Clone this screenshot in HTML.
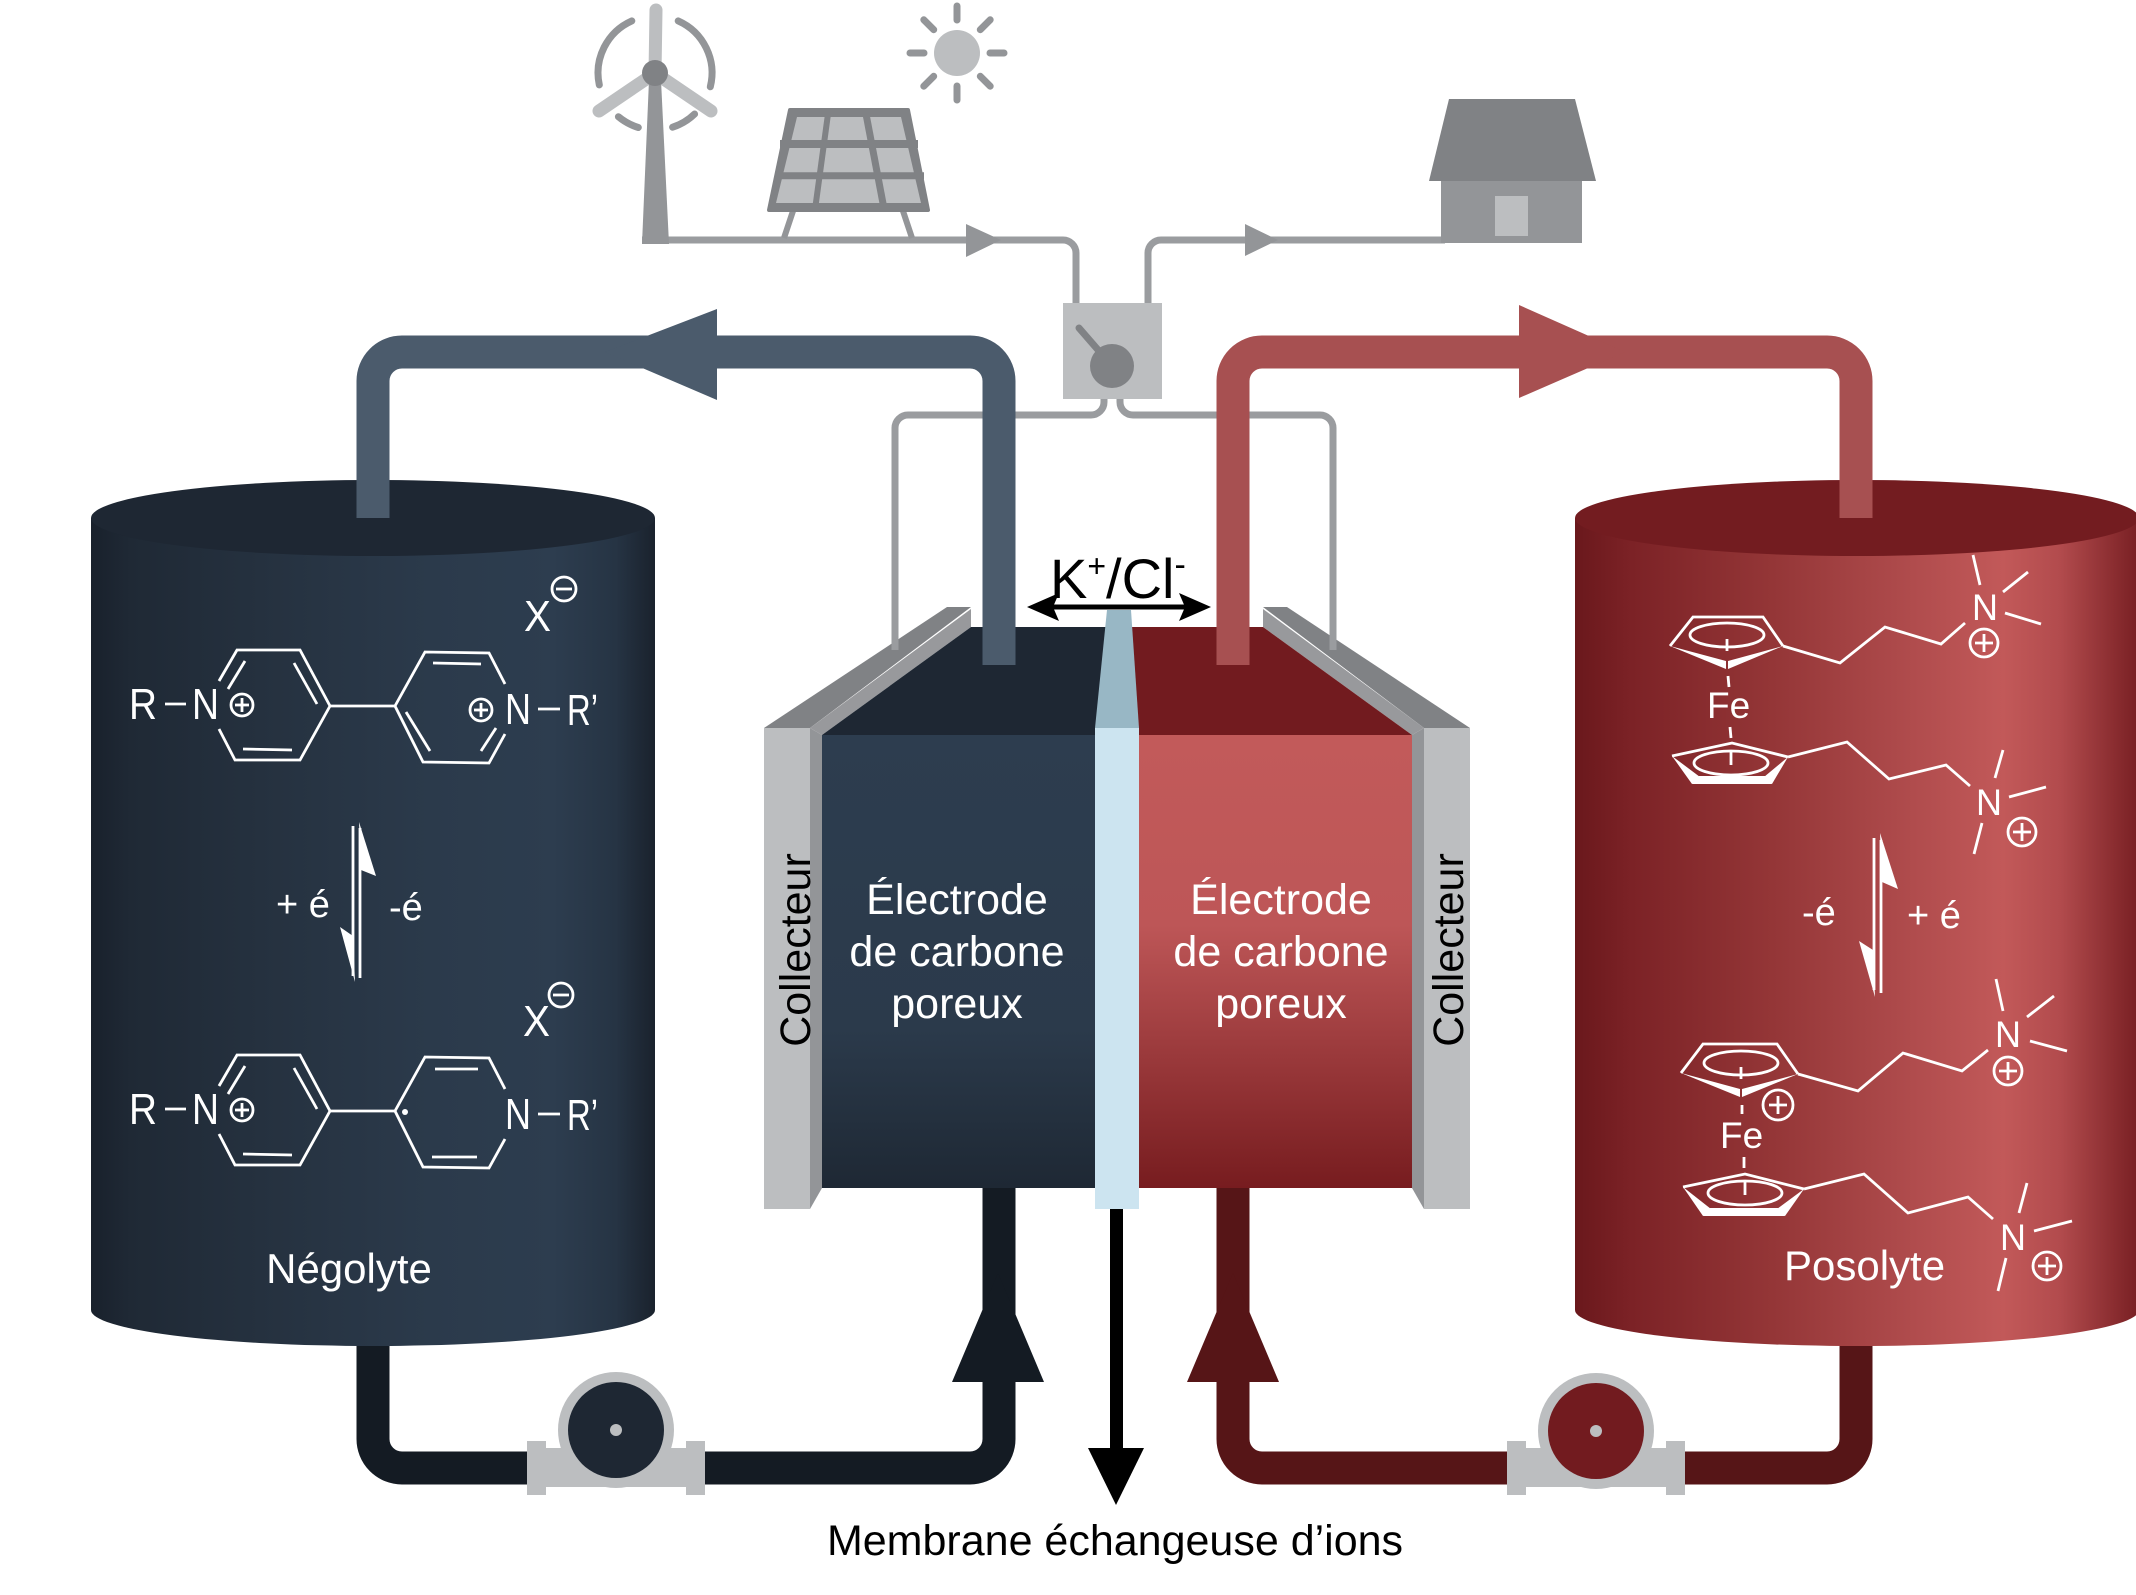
<!DOCTYPE html>
<html><head><meta charset="utf-8"><style>
html,body{margin:0;padding:0;background:#fff;}
svg{display:block;}
text{font-family:"Liberation Sans",Arial,sans-serif;}
</style></head><body>
<svg width="2136" height="1595" viewBox="0 0 2136 1595" xmlns="http://www.w3.org/2000/svg">
<defs>
<linearGradient id="gL" gradientUnits="userSpaceOnUse" x1="91" y1="0" x2="655" y2="0">
<stop offset="0" stop-color="#19212c"/><stop offset="0.07" stop-color="#1f2935"/><stop offset="0.3" stop-color="#25313f"/><stop offset="0.6" stop-color="#2b3a4b"/><stop offset="0.82" stop-color="#2d3d4f"/><stop offset="0.93" stop-color="#263444"/><stop offset="1" stop-color="#1a222d"/>
</linearGradient>
<linearGradient id="gR" gradientUnits="userSpaceOnUse" x1="1575" y1="0" x2="2139" y2="0">
<stop offset="0" stop-color="#6a181c"/><stop offset="0.1" stop-color="#7c2226"/><stop offset="0.35" stop-color="#943637"/><stop offset="0.6" stop-color="#b04c4d"/><stop offset="0.76" stop-color="#c25959"/><stop offset="0.86" stop-color="#b24b4d"/><stop offset="1" stop-color="#781f23"/>
</linearGradient>
<linearGradient id="eL" x1="0" y1="0" x2="0" y2="1">
<stop offset="0" stop-color="#2d3d4f"/><stop offset="0.65" stop-color="#2b3a4b"/><stop offset="1" stop-color="#1e2834"/>
</linearGradient>
<linearGradient id="eR" x1="0" y1="0" x2="0" y2="1">
<stop offset="0" stop-color="#c25a5a"/><stop offset="0.42" stop-color="#bd5657"/><stop offset="1" stop-color="#771c1f"/>
</linearGradient>
</defs>

<!-- bottom pipes -->
<path d="M373,1320 V1439 A29,29 0 0 0 402,1468 H970 A29,29 0 0 0 999,1439 V1180" fill="none" stroke="#141b23" stroke-width="33"/>
<path d="M1856,1320 V1439 A29,29 0 0 1 1827,1468 H1262 A29,29 0 0 1 1233,1439 V1180" fill="none" stroke="#561517" stroke-width="33"/>
<polygon points="952,1382 1044,1382 998,1273" fill="#141b23"/>
<polygon points="1187,1382 1279,1382 1233,1273" fill="#561517"/>

<!-- tanks -->
<path d="M91,518 V1310 A282,36 0 0 0 655,1310 V518 Z" fill="url(#gL)"/>
<ellipse cx="373" cy="518" rx="282" ry="38" fill="#1e2733"/>
<path d="M1575,518 V1310 A282,36 0 0 0 2139,1310 V518 Z" fill="url(#gR)"/>
<ellipse cx="1857" cy="518" rx="282" ry="38" fill="#731c20"/>

<!-- cell -->
<rect x="764" y="728" width="46" height="481" fill="#bcbec0"/>
<polygon points="810,728 822,735 822,1188 810,1209" fill="#939598"/>
<polygon points="764,728 947,607 971,607 810,728" fill="#808285"/>
<polygon points="810,728 971,609 971,627 822,735" fill="#98999c"/>
<polygon points="822,735 971,627 1110,627 1110,735" fill="#1e2733"/>
<rect x="822" y="735" width="273" height="453" fill="url(#eL)"/>

<rect x="1424" y="728" width="46" height="481" fill="#bcbec0"/>
<polygon points="1424,728 1412,735 1412,1188 1424,1209" fill="#939598"/>
<polygon points="1470,728 1287,607 1263,607 1424,728" fill="#808285"/>
<polygon points="1424,728 1263,609 1263,627 1412,735" fill="#98999c"/>
<polygon points="1412,735 1263,627 1124,627 1124,735" fill="#721b1f"/>
<rect x="1139" y="735" width="273" height="453" fill="url(#eR)"/>

<polygon points="1095,728 1139,728 1131,610 1107,610" fill="#98b7c5"/>
<rect x="1095" y="728" width="44" height="481" fill="#cce4f0"/>

<!-- membrane arrow -->
<rect x="1110" y="1209" width="13" height="245" fill="#000"/>
<polygon points="1088,1448 1144,1448 1116,1505" fill="#000"/>

<!-- wires -->
<g fill="none" stroke="#9a9c9f" stroke-width="7">
<path d="M642,240 H1063 A13,13 0 0 1 1076,253 V305"/>
<path d="M1148,305 V253 A13,13 0 0 1 1161,240 H1445"/>
<path d="M1104,388 V402 A13,13 0 0 1 1091,415 H908 A13,13 0 0 0 895,428 V650"/>
<path d="M1120,388 V402 A13,13 0 0 0 1133,415 H1320 A13,13 0 0 1 1333,428 V650"/>
</g>
<polygon points="966,224 1001,240 966,257" fill="#939598"/>
<polygon points="1245,224 1278,240 1245,256" fill="#939598"/>

<!-- switch -->
<rect x="1063" y="303" width="99" height="96" fill="#bcbec0"/>
<line x1="1079" y1="328" x2="1112" y2="366" stroke="#808285" stroke-width="7" stroke-linecap="round"/>
<circle cx="1112" cy="366" r="22" fill="#808285"/>

<!-- top pipes -->
<path d="M373,518 V381 A29,29 0 0 1 402,352 H970 A29,29 0 0 1 999,381 V665" fill="none" stroke="#4b5b6c" stroke-width="33"/>
<polygon points="605,352 717,309 717,400" fill="#4b5b6c"/>
<path d="M1233,665 V381 A29,29 0 0 1 1262,352 H1827 A29,29 0 0 1 1856,381 V518" fill="none" stroke="#a75051" stroke-width="33"/>
<polygon points="1625,352 1519,305 1519,398" fill="#a75051"/>

<!-- pumps -->
<g>
<rect x="527" y="1448" width="178" height="39" fill="#bcbec0"/>
<rect x="527" y="1441" width="19" height="54" fill="#bcbec0"/>
<rect x="686" y="1441" width="19" height="54" fill="#bcbec0"/>
<circle cx="616" cy="1430" r="58" fill="#bcbec0"/>
<circle cx="616" cy="1430" r="48" fill="#1e2733"/>
<circle cx="616" cy="1430" r="6" fill="#bcbec0"/>
</g>
<g>
<rect x="1507" y="1448" width="178" height="39" fill="#bcbec0"/>
<rect x="1507" y="1441" width="19" height="54" fill="#bcbec0"/>
<rect x="1666" y="1441" width="19" height="54" fill="#bcbec0"/>
<circle cx="1596" cy="1431" r="58" fill="#bcbec0"/>
<circle cx="1596" cy="1431" r="48" fill="#721b1f"/>
<circle cx="1596" cy="1431" r="6" fill="#bcbec0"/>
</g>

<!-- wind turbine -->
<g fill="none" stroke="#939598" stroke-width="7" stroke-linecap="round">
<path d="M599.3,84.9 A57,57 0 0 1 631.8,20.9"/>
<path d="M678.2,20.9 A57,57 0 0 1 710.3,86.8"/>
<path d="M694.6,114 A57,57 0 0 1 672.6,127.2"/>
<path d="M638.3,127.5 A57,57 0 0 1 618.4,116.7"/>
</g>
<polygon points="649,80 661,80 669,244 642,244" fill="#939598"/>
<g stroke="#bcbec0" stroke-width="13" stroke-linecap="round">
<line x1="655" y1="73" x2="656" y2="10"/>
<line x1="655" y1="73" x2="599" y2="111"/>
<line x1="655" y1="73" x2="711" y2="111"/>
</g>
<circle cx="655" cy="73" r="13" fill="#808285"/>

<!-- sun -->
<circle cx="957" cy="53" r="23" fill="#bcbec0"/>
<g stroke="#939598" stroke-width="7" stroke-linecap="round">
<line x1="957" y1="20" x2="957" y2="6"/>
<line x1="957" y1="86" x2="957" y2="100"/>
<line x1="924" y1="53" x2="910" y2="53"/>
<line x1="990" y1="53" x2="1004" y2="53"/>
<line x1="933.7" y1="29.7" x2="923.8" y2="19.8"/>
<line x1="980.3" y1="29.7" x2="990.2" y2="19.8"/>
<line x1="933.7" y1="76.3" x2="923.8" y2="86.2"/>
<line x1="980.3" y1="76.3" x2="990.2" y2="86.2"/>
</g>

<!-- solar panel -->
<g stroke="#939598" stroke-width="6">
<line x1="794" y1="208" x2="784" y2="238"/>
<line x1="902" y1="208" x2="912" y2="238"/>
</g>
<polygon points="790,110 908,110 928,210 769,210" fill="#808285" stroke="#808285" stroke-width="4" stroke-linejoin="round"/>
<polygon points="797,117 901,117 921,203 776,203" fill="#bcbec0"/>
<g stroke="#808285">
<line x1="780" y1="144" x2="918" y2="144" stroke-width="8"/>
<line x1="775" y1="175.7" x2="924" y2="175.7" stroke-width="7"/>
<line x1="828" y1="114" x2="815.5" y2="206" stroke-width="6"/>
<line x1="866" y1="114" x2="883.5" y2="206" stroke-width="7"/>
</g>

<!-- house -->
<polygon points="1449,99 1575,99 1596,181 1429,181" fill="#808285"/>
<rect x="1441" y="181" width="141" height="62" fill="#939598"/>
<rect x="1495" y="196" width="33" height="40" fill="#bcbec0"/>

<!-- double arrow K+/Cl- -->
<line x1="1050" y1="607" x2="1188" y2="607" stroke="#000" stroke-width="5"/>
<polygon points="1027,607 1059,593 1053,607 1059,621" fill="#000"/>
<polygon points="1211,607 1179,593 1185,607 1179,621" fill="#000"/>
<text x="1050" y="598" font-size="56" fill="#000">K<tspan dy="-21" font-size="32">+</tspan><tspan dy="21">/Cl</tspan><tspan dy="-22" font-size="34">-</tspan></text>

<!-- electrode texts -->
<g fill="#fff" font-size="43" text-anchor="middle">
<text x="957" y="914">Électrode</text>
<text x="957" y="966">de carbone</text>
<text x="957" y="1018">poreux</text>
<text x="1281" y="914">Électrode</text>
<text x="1281" y="966">de carbone</text>
<text x="1281" y="1018">poreux</text>
</g>
<g fill="#000" font-size="43" text-anchor="middle">
<text transform="translate(810,950) rotate(-90)">Collecteur</text>
<text transform="translate(1463,950) rotate(-90)">Collecteur</text>
<text x="1115" y="1555">Membrane échangeuse d’ions</text>
</g>

<!-- tank labels -->
<g fill="#fff" font-size="42">
<text x="349" y="1283" text-anchor="middle">Négolyte</text>
<text x="1784" y="1280">Posolyte</text>
</g>

<!-- viologen top -->
<g stroke="#fff" stroke-width="2.8" fill="none" stroke-linecap="butt">
<polyline points="219,681 237,650 300,650 330,706 300,760 235,760 219,729"/>
<line x1="245" y1="661" x2="228" y2="689"/>
<line x1="294" y1="663" x2="317" y2="704"/>
<line x1="243" y1="749" x2="292" y2="750"/>
<line x1="330" y1="706" x2="395" y2="706"/>
<polyline points="505,684 489,653 425,652 395,706 423,762 489,763 505,734"/>
<line x1="433" y1="663" x2="481" y2="664"/>
<line x1="406" y1="712" x2="430" y2="751"/>
<line x1="496" y1="728" x2="481" y2="751"/>
<line x1="165" y1="704" x2="186" y2="704"/>
<line x1="538" y1="709" x2="560" y2="709"/>
<circle cx="242" cy="705" r="11"/><line x1="235" y1="705" x2="249" y2="705"/><line x1="242" y1="698" x2="242" y2="712"/>
<circle cx="481" cy="710" r="11"/><line x1="474" y1="710" x2="488" y2="710"/><line x1="481" y1="703" x2="481" y2="717"/>
<circle cx="564" cy="589" r="12"/><line x1="556" y1="589" x2="572" y2="589"/>
</g>
<g fill="#fff" font-size="44">
<text x="129" y="719" textLength="28" lengthAdjust="spacingAndGlyphs">R</text>
<text x="192" y="719" textLength="27" lengthAdjust="spacingAndGlyphs">N</text>
<text x="505" y="724" textLength="26" lengthAdjust="spacingAndGlyphs">N</text>
<text x="567" y="725" textLength="31" lengthAdjust="spacingAndGlyphs">R’</text>
<text x="524" y="631" textLength="27" lengthAdjust="spacingAndGlyphs">X</text>
</g>

<!-- equilibrium left -->
<g stroke="#fff" stroke-width="2.8">
<line x1="353" y1="826" x2="353" y2="976"/>
<line x1="360" y1="828" x2="360" y2="978"/>
</g>
<polygon points="355,982 340,927 353,936" fill="#fff"/>
<polygon points="359,822 376,876 361,870" fill="#fff"/>
<g fill="#fff" font-size="38">
<text x="276" y="917">+ é</text>
<text x="389" y="920">-é</text>
</g>

<!-- viologen bottom (radical) -->
<g stroke="#fff" stroke-width="2.8" fill="none">
<polyline points="219,1086 237,1055 300,1055 330,1111 300,1165 235,1165 219,1134"/>
<line x1="245" y1="1066" x2="228" y2="1094"/>
<line x1="294" y1="1068" x2="317" y2="1109"/>
<line x1="243" y1="1154" x2="292" y2="1155"/>
<line x1="330" y1="1111" x2="395" y2="1111"/>
<polyline points="505,1089 489,1058 425,1057 395,1111 423,1167 489,1168 505,1139"/>
<line x1="435" y1="1069" x2="478" y2="1069"/>
<line x1="432" y1="1157" x2="477" y2="1157"/>
<line x1="165" y1="1109" x2="186" y2="1109"/>
<line x1="538" y1="1114" x2="560" y2="1114"/>
<circle cx="242" cy="1110" r="11"/><line x1="235" y1="1110" x2="249" y2="1110"/><line x1="242" y1="1103" x2="242" y2="1117"/>
<circle cx="561" cy="995" r="12"/><line x1="553" y1="995" x2="569" y2="995"/>
</g>
<circle cx="405" cy="1112" r="3" fill="#fff"/>
<g fill="#fff" font-size="44">
<text x="129" y="1124" textLength="28" lengthAdjust="spacingAndGlyphs">R</text>
<text x="192" y="1124" textLength="27" lengthAdjust="spacingAndGlyphs">N</text>
<text x="505" y="1129" textLength="26" lengthAdjust="spacingAndGlyphs">N</text>
<text x="567" y="1130" textLength="31" lengthAdjust="spacingAndGlyphs">R’</text>
<text x="523" y="1036" textLength="27" lengthAdjust="spacingAndGlyphs">X</text>
</g>

<!-- ferrocene top (neutral) -->
<g stroke="#fff" stroke-width="2.8" fill="none">
<polyline points="1670,646 1693,617 1763,617 1783,646"/>
<ellipse cx="1727" cy="635" rx="37" ry="12"/>
<line x1="1727" y1="639" x2="1727" y2="651"/>
<line x1="1728" y1="676" x2="1729" y2="687"/>
<line x1="1730" y1="727" x2="1731" y2="738"/>
<polyline points="1672,756 1732,743 1788,757"/>
<ellipse cx="1731" cy="763" rx="37" ry="12"/>
<line x1="1731" y1="752" x2="1731" y2="765"/>
<polyline points="1783,646 1840,663 1885,627 1941,644 1965,623"/>
<line x1="1973" y1="555" x2="1980" y2="585"/>
<line x1="2003" y1="592" x2="2028" y2="572"/>
<line x1="2005" y1="613" x2="2041" y2="624"/>
<circle cx="1984" cy="643" r="14"/><line x1="1975" y1="643" x2="1993" y2="643"/><line x1="1984" y1="634" x2="1984" y2="652"/>
<polyline points="1788,757 1847,742 1889,779 1946,765 1970,786"/>
<line x1="1995" y1="778" x2="2003" y2="750"/>
<line x1="2009" y1="797" x2="2046" y2="787"/>
<line x1="1982" y1="823" x2="1974" y2="854"/>
<circle cx="2022" cy="832" r="14"/><line x1="2013" y1="832" x2="2031" y2="832"/><line x1="2022" y1="823" x2="2022" y2="841"/>
</g>
<g fill="#fff">
<polygon points="1670,646 1726,661 1726,669"/>
<polygon points="1783,646 1728,661 1728,669"/>
<polygon points="1672,756 1692,784 1700,777"/>
<polygon points="1788,757 1772,784 1764,777"/>
<polygon points="1692,784 1772,784 1765,776 1699,776"/>
</g>
<g fill="#fff">
<text x="1707" y="718" font-size="37">Fe</text>
<text x="1972" y="620" font-size="37" textLength="26" lengthAdjust="spacingAndGlyphs">N</text>
<text x="1976" y="815" font-size="37" textLength="26" lengthAdjust="spacingAndGlyphs">N</text>
</g>

<!-- equilibrium right -->
<g stroke="#fff" stroke-width="2.8">
<line x1="1874" y1="838" x2="1874" y2="990"/>
<line x1="1881" y1="840" x2="1881" y2="993"/>
</g>
<polygon points="1875,997 1859,941 1873,950" fill="#fff"/>
<polygon points="1880,833 1898,889 1882,882" fill="#fff"/>
<g fill="#fff" font-size="38">
<text x="1802" y="925">-é</text>
<text x="1907" y="928">+ é</text>
</g>

<!-- ferrocenium -->
<g stroke="#fff" stroke-width="2.8" fill="none">
<polyline points="1681,1073 1703,1044 1777,1044 1798,1074"/>
<ellipse cx="1741" cy="1063" rx="37" ry="12"/>
<line x1="1741" y1="1067" x2="1741" y2="1079"/>
<circle cx="1778" cy="1105" r="15"/><line x1="1769" y1="1105" x2="1787" y2="1105"/><line x1="1778" y1="1096" x2="1778" y2="1114"/>
<line x1="1742" y1="1105" x2="1742" y2="1114"/>
<line x1="1744" y1="1157" x2="1744" y2="1168"/>
<polyline points="1683,1187 1745,1174 1804,1189"/>
<ellipse cx="1745" cy="1193" rx="37" ry="12"/>
<line x1="1745" y1="1182" x2="1745" y2="1195"/>
<polyline points="1798,1074 1858,1091 1903,1053 1962,1071 1988,1050"/>
<line x1="1996" y1="979" x2="2003" y2="1011"/>
<line x1="2027" y1="1017" x2="2054" y2="996"/>
<line x1="2030" y1="1041" x2="2067" y2="1051"/>
<circle cx="2008" cy="1071" r="14"/><line x1="1999" y1="1071" x2="2017" y2="1071"/><line x1="2008" y1="1062" x2="2008" y2="1080"/>
<polyline points="1804,1189 1864,1174 1908,1213 1968,1197 1993,1219"/>
<line x1="2027" y1="1183" x2="2019" y2="1213"/>
<line x1="2034" y1="1231" x2="2072" y2="1221"/>
<line x1="2006" y1="1258" x2="1998" y2="1291"/>
<circle cx="2047" cy="1266" r="14"/><line x1="2038" y1="1266" x2="2056" y2="1266"/><line x1="2047" y1="1257" x2="2047" y2="1275"/>
</g>
<g fill="#fff">
<polygon points="1681,1073 1740,1089 1740,1097"/>
<polygon points="1798,1074 1742,1089 1742,1097"/>
<polygon points="1683,1187 1703,1216 1711,1209"/>
<polygon points="1804,1189 1785,1216 1777,1209"/>
<polygon points="1703,1216 1785,1216 1778,1208 1710,1208"/>
</g>
<g fill="#fff">
<text x="1720" y="1148" font-size="37">Fe</text>
<text x="1995" y="1047" font-size="37" textLength="26" lengthAdjust="spacingAndGlyphs">N</text>
<text x="2000" y="1250" font-size="37" textLength="26" lengthAdjust="spacingAndGlyphs">N</text>
</g>
</svg>
</body></html>
